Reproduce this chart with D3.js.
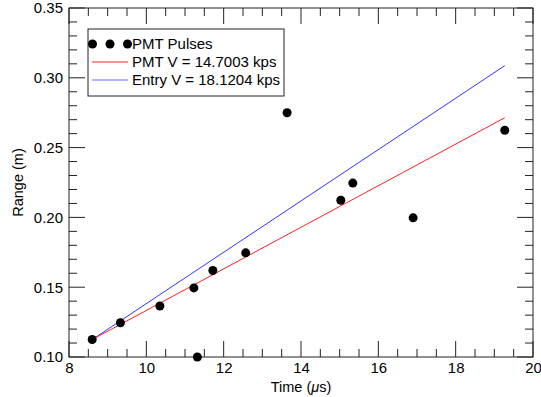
<!DOCTYPE html>
<html><head><meta charset="utf-8">
<script src="https://cdn.jsdelivr.net/npm/d3@7/dist/d3.min.js"></script>
<style>body{margin:0;background:#fff}svg{display:block}text{font-family:"Liberation Sans",Arial,Helvetica,sans-serif}</style>
</head><body>
<script>
const timeUs = [8.6, 9.33, 10.35, 11.32, 11.23, 11.72, 12.57, 13.64, 15.03, 15.34, 16.90, 19.27];
const rangeM = [0.1125, 0.1245, 0.1365, 0.100, 0.1495, 0.162, 0.1746, 0.275, 0.2123, 0.2246, 0.1997, 0.2624];
const pmtLineT = [8.6, 19.27];
const pmtLineR = [0.1125, 0.2714];
const entryLineT = [8.6, 19.27];
const entryLineR = [0.1125, 0.3087];
const xTicks = [8, 10, 12, 14, 16, 18, 20];
const yTicks = [0.10, 0.15, 0.20, 0.25, 0.30, 0.35];
const legendLabels = ["PMT Pulses", "PMT V = 14.7003 kps", "Entry V = 18.1204 kps"];

const W = 541, H = 397;
const L = 69, R = 533, T = 8, B = 357;
const svg = d3.select("body").append("svg").attr("width", W).attr("height", H);
const x = d3.scaleLinear().domain([8, 20]).range([L, R]);
const y = d3.scaleLinear().domain([0.10, 0.35]).range([B, T]);

const xMinor = d3.range(8, 20.001, 0.5);
const yMinor = d3.range(0.10, 0.3501, 0.01);
const tickCol = "#222";
const g = svg.append("g");
xMinor.forEach(v => {
  const major = Math.abs(v - Math.round(v / 2) * 2) < 1e-6;
  const len = major ? 16 : 8;
  g.append("line").attr("x1", x(v)).attr("x2", x(v)).attr("y1", B).attr("y2", B - len).attr("stroke", tickCol);
  g.append("line").attr("x1", x(v)).attr("x2", x(v)).attr("y1", T).attr("y2", T + len).attr("stroke", tickCol);
});
yMinor.forEach(v => {
  const major = Math.abs(v * 20 - Math.round(v * 20)) < 1e-6;
  const len = major ? 16 : 8;
  g.append("line").attr("y1", y(v)).attr("y2", y(v)).attr("x1", L).attr("x2", L + len).attr("stroke", tickCol);
  g.append("line").attr("y1", y(v)).attr("y2", y(v)).attr("x1", R).attr("x2", R - len).attr("stroke", tickCol);
});
svg.append("rect").attr("x", L).attr("y", T).attr("width", R - L).attr("height", B - T)
  .attr("fill", "none").attr("stroke", "#222").attr("stroke-width", 1);

const xAxis = svg.append("g").attr("transform", `translate(0,${B})`)
  .call(d3.axisBottom(x).tickValues(xTicks).tickSize(0).tickPadding(5).tickFormat(d3.format("d")));
xAxis.select(".domain").remove();
xAxis.selectAll("text").attr("font-size", 15).attr("fill", "#000").attr("font-family", "Liberation Sans, Arial, sans-serif");
const yAxis = svg.append("g").attr("transform", `translate(${L},0)`)
  .call(d3.axisLeft(y).tickValues(yTicks).tickSize(0).tickPadding(6).tickFormat(d3.format(".2f")));
yAxis.select(".domain").remove();
yAxis.selectAll("text").attr("font-size", 15).attr("fill", "#000").attr("font-family", "Liberation Sans, Arial, sans-serif");

svg.append("text").attr("x", (L + R) / 2).attr("y", 392).attr("text-anchor", "middle").attr("font-size", 14.5)
  .html('Time (<tspan font-style="italic">μ</tspan>s)');
svg.append("text").attr("transform", `translate(23,${(T + B) / 2}) rotate(-90)`).attr("text-anchor", "middle")
  .attr("font-size", 14.5).text("Range (m)");

const line = d3.line().x(d => x(d[0])).y(d => y(d[1]));
svg.append("path").datum(d3.zip(entryLineT, entryLineR)).attr("d", line).attr("stroke", "#3333ff").attr("fill", "none").attr("stroke-width", 1);
svg.append("path").datum(d3.zip(pmtLineT, pmtLineR)).attr("d", line).attr("stroke", "#ff2020").attr("fill", "none").attr("stroke-width", 1);

svg.append("g").selectAll("circle").data(d3.zip(timeUs, rangeM)).join("circle")
  .attr("cx", d => x(d[0])).attr("cy", d => y(d[1])).attr("r", 4.5).attr("fill", "#000");

const lg = svg.append("g");
lg.append("rect").attr("x", 88).attr("y", 29).attr("width", 196).attr("height", 67).attr("fill", "#fff").attr("stroke", "#222");
[92.5, 110, 127.5].forEach(cx => lg.append("circle").attr("cx", cx).attr("cy", 44).attr("r", 4.5).attr("fill", "#000"));
lg.append("line").attr("x1", 92).attr("x2", 128).attr("y1", 62).attr("y2", 62).attr("stroke", "#ff2020");
lg.append("line").attr("x1", 92).attr("x2", 128).attr("y1", 80).attr("y2", 80).attr("stroke", "#6666ff");
legendLabels.forEach((t, i) => lg.append("text").attr("x", 132).attr("y", 44 + i * 18).attr("dy", "0.35em")
  .attr("font-size", 15).attr("fill", "#000").text(t));
</script>
</body></html>
